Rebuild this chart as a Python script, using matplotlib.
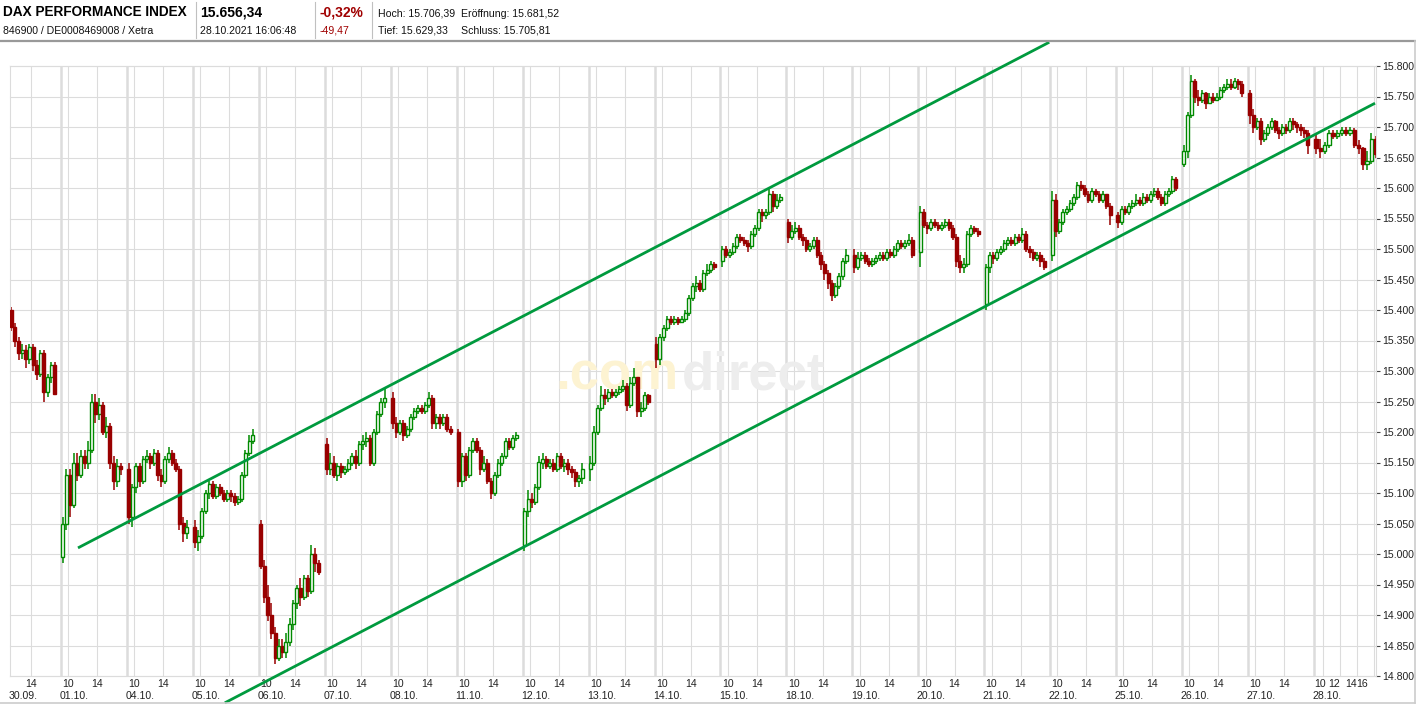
import matplotlib
matplotlib.use("Agg")
import matplotlib.pyplot as plt
from matplotlib.lines import Line2D
import numpy as np

# ---------------- data ----------------
days = ["30.09.", "01.10.", "04.10.", "05.10.", "06.10.", "07.10.", "08.10.",
        "11.10.", "12.10.", "13.10.", "14.10.", "15.10.", "18.10.", "19.10.",
        "20.10.", "21.10.", "22.10.", "25.10.", "26.10.", "27.10.", "28.10."]

first_slot = [4] + [0] * 20          # first half-hour slot (0 = 9:00) per day

day_open = [15400, 14995, 15140, 15045, 15050, 15180, 15255, 15200, 15015, 15140,
            15345, 15480, 15545, 15490, 15495, 15410, 15490, 15555, 15640, 15755, 15680]

closes = [
    [15372, 15350, 15330, 15335, 15320, 15340, 15310, 15295, 15330, 15265, 15290, 15310, 15262],
    [15050, 15130, 15080, 15150, 15130, 15160, 15150, 15170, 15250, 15230, 15245, 15200, 15210, 15150, 15120, 15145, 15140],
    [15060, 15110, 15145, 15120, 15155, 15160, 15150, 15165, 15130, 15120, 15155, 15165, 15150, 15140, 15050, 15035, 15045],
    [15020, 15030, 15070, 15100, 15115, 15095, 15110, 15100, 15090, 15100, 15095, 15085, 15090, 15130, 15165, 15185, 15195],
    [14980, 14930, 14900, 14870, 14830, 14850, 14840, 14855, 14885, 14920, 14945, 14930, 14960, 14940, 15000, 14985, 14970],
    [15140, 15150, 15130, 15145, 15135, 15140, 15150, 15160, 15150, 15180, 15185, 15190, 15150, 15200, 15230, 15250, 15255],
    [15215, 15200, 15215, 15195, 15205, 15225, 15235, 15240, 15235, 15245, 15255, 15215, 15225, 15215, 15225, 15205, 15200],
    [15120, 15160, 15130, 15170, 15185, 15170, 15140, 15150, 15120, 15100, 15130, 15150, 15160, 15185, 15175, 15190, 15195],
    [15070, 15090, 15085, 15110, 15150, 15155, 15145, 15150, 15140, 15160, 15145, 15150, 15140, 15135, 15120, 15125, 15140],
    [15150, 15200, 15240, 15260, 15255, 15265, 15260, 15265, 15270, 15275, 15245, 15280, 15290, 15235, 15240, 15260, 15250],
    [15320, 15355, 15370, 15385, 15380, 15385, 15380, 15385, 15395, 15420, 15440, 15445, 15435, 15460, 15465, 15475, 15470],
    [15500, 15490, 15495, 15505, 15520, 15515, 15510, 15505, 15525, 15535, 15560, 15555, 15560, 15590, 15570, 15580, 15585],
    [15520, 15530, 15535, 15520, 15515, 15500, 15505, 15515, 15490, 15475, 15460, 15445, 15425, 15440, 15455, 15480, 15490],
    [15470, 15485, 15490, 15480, 15475, 15480, 15485, 15490, 15485, 15495, 15490, 15500, 15510, 15505, 15510, 15515, 15490],
    [15560, 15540, 15535, 15545, 15540, 15535, 15540, 15545, 15535, 15520, 15480, 15470, 15475, 15525, 15535, 15530, 15525],
    [15470, 15490, 15485, 15495, 15500, 15510, 15515, 15510, 15520, 15515, 15525, 15500, 15495, 15485, 15490, 15480, 15470],
    [15580, 15530, 15545, 15560, 15565, 15575, 15585, 15605, 15600, 15590, 15580, 15595, 15590, 15580, 15590, 15570, 15555],
    [15545, 15565, 15560, 15570, 15575, 15580, 15575, 15585, 15580, 15590, 15595, 15585, 15575, 15590, 15595, 15615, 15600],
    [15660, 15720, 15775, 15750, 15745, 15755, 15740, 15750, 15745, 15750, 15760, 15765, 15770, 15765, 15775, 15770, 15755],
    [15720, 15700, 15710, 15680, 15690, 15700, 15710, 15695, 15690, 15700, 15695, 15710, 15705, 15700, 15695, 15690, 15670],
    [15665, 15660, 15670, 15690, 15685, 15690, 15695, 15690, 15695, 15670, 15665, 15640, 15645, 15680, 15656],
]

highs = [
    [15405, 15378, 15355, 15345, 15342, 15345, 15345, 15318, 15335, 15335, 15295, 15315, 15315],
    [15060, 15140, 15140, 15165, 15165, 15170, 15170, 15185, 15262, 15262, 15255, 15250, 15225, 15215, 15160, 15155, 15150],
    [15150, 15115, 15150, 15150, 15160, 15170, 15165, 15172, 15170, 15140, 15160, 15175, 15170, 15155, 15145, 15060, 15055],
    [15055, 15040, 15075, 15105, 15120, 15120, 15115, 15115, 15105, 15105, 15105, 15100, 15095, 15135, 15170, 15195, 15205],
    [15055, 14990, 14950, 14920, 14880, 14860, 14860, 14870, 14895, 14925, 14950, 14960, 14965, 14965, 15015, 15010, 14990],
    [15190, 15165, 15160, 15150, 15150, 15145, 15155, 15165, 15170, 15185, 15195, 15200, 15195, 15205, 15235, 15255, 15270],
    [15265, 15225, 15220, 15220, 15210, 15230, 15240, 15245, 15245, 15250, 15265, 15260, 15230, 15230, 15230, 15230, 15210],
    [15205, 15165, 15165, 15175, 15190, 15190, 15175, 15160, 15155, 15125, 15135, 15155, 15165, 15190, 15190, 15195, 15200],
    [15075, 15105, 15100, 15115, 15160, 15165, 15160, 15155, 15155, 15165, 15165, 15155, 15155, 15145, 15140, 15130, 15150],
    [15160, 15210, 15245, 15275, 15270, 15270, 15270, 15270, 15275, 15285, 15280, 15290, 15305, 15290, 15250, 15265, 15262],
    [15355, 15360, 15375, 15390, 15390, 15390, 15388, 15390, 15400, 15425, 15445, 15455, 15450, 15465, 15475, 15480, 15478],
    [15505, 15505, 15500, 15510, 15525, 15525, 15520, 15515, 15530, 15540, 15565, 15565, 15565, 15600, 15595, 15590, 15590],
    [15550, 15540, 15545, 15540, 15525, 15520, 15510, 15520, 15520, 15495, 15480, 15465, 15450, 15445, 15460, 15485, 15500],
    [15500, 15495, 15495, 15495, 15485, 15485, 15490, 15495, 15495, 15500, 15500, 15505, 15515, 15515, 15515, 15525, 15520],
    [15570, 15565, 15545, 15550, 15550, 15545, 15545, 15550, 15550, 15540, 15525, 15490, 15485, 15530, 15540, 15538, 15535],
    [15475, 15495, 15495, 15500, 15505, 15515, 15520, 15520, 15525, 15525, 15535, 15530, 15505, 15500, 15495, 15495, 15485],
    [15595, 15590, 15550, 15565, 15570, 15580, 15590, 15610, 15612, 15605, 15595, 15600, 15598, 15595, 15595, 15590, 15575],
    [15560, 15570, 15570, 15575, 15580, 15590, 15585, 15592, 15590, 15595, 15600, 15600, 15590, 15595, 15600, 15620, 15618],
    [15670, 15725, 15785, 15778, 15760, 15760, 15758, 15755, 15755, 15755, 15765, 15770, 15778, 15778, 15780, 15778, 15775],
    [15760, 15730, 15715, 15715, 15695, 15705, 15715, 15712, 15700, 15705, 15705, 15715, 15715, 15708, 15705, 15700, 15695],
    [15690, 15680, 15675, 15695, 15695, 15695, 15700, 15700, 15700, 15698, 15678, 15668, 15660, 15690, 15685],
]

lows = [
    [15365, 15340, 15318, 15320, 15305, 15312, 15300, 15285, 15290, 15250, 15258, 15280, 15260],
    [14985, 15040, 15060, 15075, 15120, 15125, 15140, 15140, 15165, 15215, 15220, 15195, 15190, 15140, 15105, 15110, 15130],
    [15050, 15045, 15100, 15110, 15115, 15150, 15140, 15145, 15120, 15110, 15115, 15150, 15145, 15135, 15040, 15020, 15025],
    [15010, 15005, 15025, 15065, 15090, 15090, 15090, 15095, 15085, 15085, 15085, 15078, 15080, 15085, 15125, 15160, 15180],
    [14975, 14920, 14890, 14860, 14820, 14825, 14830, 14830, 14850, 14875, 14910, 14915, 14925, 14930, 14935, 14970, 14965],
    [15130, 15130, 15125, 15120, 15125, 15130, 15135, 15145, 15140, 15145, 15170, 15175, 15145, 15145, 15195, 15225, 15240],
    [15205, 15190, 15195, 15185, 15190, 15200, 15220, 15230, 15230, 15230, 15240, 15205, 15205, 15205, 15210, 15200, 15195],
    [15110, 15110, 15120, 15125, 15165, 15165, 15130, 15135, 15115, 15090, 15095, 15125, 15145, 15155, 15170, 15170, 15185],
    [15005, 15060, 15075, 15080, 15105, 15140, 15140, 15140, 15135, 15135, 15140, 15135, 15130, 15125, 15110, 15110, 15115],
    [15120, 15145, 15195, 15235, 15245, 15250, 15255, 15255, 15260, 15265, 15235, 15240, 15275, 15225, 15225, 15235, 15245],
    [15305, 15310, 15350, 15365, 15375, 15375, 15375, 15378, 15380, 15390, 15415, 15430, 15430, 15430, 15455, 15460, 15465],
    [15470, 15485, 15485, 15490, 15500, 15510, 15505, 15495, 15500, 15520, 15530, 15545, 15550, 15555, 15560, 15565, 15575],
    [15510, 15515, 15525, 15515, 15505, 15495, 15495, 15500, 15485, 15465, 15450, 15435, 15415, 15420, 15435, 15450, 15475],
    [15460, 15465, 15480, 15475, 15470, 15470, 15475, 15480, 15480, 15480, 15485, 15485, 15495, 15500, 15500, 15505, 15485],
    [15470, 15535, 15525, 15530, 15535, 15530, 15530, 15535, 15530, 15515, 15470, 15460, 15460, 15470, 15520, 15525, 15520],
    [15400, 15460, 15475, 15480, 15490, 15495, 15505, 15505, 15505, 15510, 15510, 15495, 15485, 15480, 15480, 15470, 15465],
    [15480, 15520, 15525, 15540, 15555, 15560, 15570, 15580, 15595, 15585, 15575, 15575, 15585, 15575, 15575, 15565, 15540],
    [15535, 15540, 15555, 15555, 15565, 15570, 15570, 15570, 15575, 15575, 15585, 15580, 15570, 15570, 15585, 15590, 15595],
    [15635, 15650, 15715, 15740, 15735, 15740, 15730, 15738, 15740, 15742, 15745, 15755, 15760, 15760, 15762, 15760, 15750],
    [15705, 15690, 15695, 15670, 15675, 15685, 15695, 15690, 15680, 15685, 15688, 15690, 15695, 15690, 15685, 15682, 15655],
    [15655, 15650, 15655, 15665, 15680, 15680, 15685, 15685, 15685, 15665, 15655, 15630, 15630, 15640, 15650],
]

# trend channel: (day index, hour, price)
trend_upper = [(1, 11.35, 15010), (15, 17.97, 15839)]
trend_lower = [(3, 13.41, 14756), (20, 16.18, 15739)]

y_ticks = list(range(14800, 15801, 50))
hour_ticks = [10, 14]
last_day_hour_ticks = [10, 12, 14, 16]

header_title = "DAX PERFORMANCE INDEX"
header_sub = "846900 / DE0008469008 / Xetra"
header_price = "15.656,34"
header_time = "28.10.2021 16:06:48"
header_pct = "-0,32%"
header_abs = "-49,47"
header_hoch = "Hoch: 15.706,39"
header_tief = "Tief: 15.629,33"
header_eroeff = "Eröffnung: 15.681,52"
header_schluss = "Schluss: 15.705,81"

# ---------------- layout ----------------
W, H = 1416, 706
FONT = ["Liberation Sans", "DejaVu Sans"]
RED = "#990000"
GREEN = "#008a00"
GRID = "#dcdcdc"
TREND = "#009a3e"

fig = plt.figure(figsize=(W / 100, H / 100), dpi=100)
fig.patch.set_facecolor("white")


def fx(px):
    return px / W


def fy(py):
    return 1 - py / H


AX_L, AX_R, AX_T, AX_B = 10, 1376, 66, 676
ax = fig.add_axes([fx(AX_L), fy(AX_B), (AX_R - AX_L) / W, (AX_B - AX_T) / H])
ax.set_facecolor("white")

DAY_PX = 65.95
ORIGIN_PX = -5.0
HOUR_PX = 7.25
LAST_HOUR_PX = 8.5
LAST = len(days) - 1


def pos(k, h):
    scale = LAST_HOUR_PX if k == LAST else HOUR_PX
    return k + (h - 9.0) * scale / DAY_PX


x0 = (AX_L - ORIGIN_PX) / DAY_PX
x1 = (AX_R - ORIGIN_PX) / DAY_PX
ax.set_xlim(x0, x1)
ax.set_ylim(14800, 15800)

# grid
for v in y_ticks:
    ax.axhline(v, color=GRID, lw=0.8, zorder=0, clip_on=False)
for k in range(len(days)):
    if k >= 1:
        ax.axvline(k, color=GRID, lw=1.8, zorder=0)
    hts = last_day_hour_ticks if k == LAST else hour_ticks
    for h in hts:
        xv = pos(k, h)
        if x0 < xv < x1:
            ax.axvline(xv, color=GRID, lw=0.8, zorder=0)

# candles
BODY_PX = 3.0
for k in range(len(days)):
    prev = day_open[k]
    scale = LAST_HOUR_PX if k == LAST else HOUR_PX
    wd = BODY_PX * scale / HOUR_PX / DAY_PX
    for j, c in enumerate(closes[k]):
        slot = first_slot[k] + j
        xc = pos(k, 9.0 + 0.5 * slot + 0.25)
        lo, hi = min(prev, c), max(prev, c)
        col = GREEN if c >= prev else RED
        ax.vlines(xc, lows[k][j], highs[k][j], color=col, lw=1.1, zorder=2)
        if c >= prev:
            ax.bar(xc, hi - lo, wd, lo, facecolor="white", edgecolor=GREEN,
                   linewidth=1.0, zorder=3)
        else:
            ax.bar(xc, hi - lo, wd, lo, facecolor=RED, edgecolor=RED,
                   linewidth=1.0, zorder=3)
        prev = c

# trend channel
for tl in (trend_upper, trend_lower):
    xs = [pos(k, h) for k, h, _ in tl]
    ys = [p for _, _, p in tl]
    ax.plot(xs, ys, color=TREND, lw=2.0, clip_on=False, zorder=4,
            solid_capstyle="butt")

# axes styling
for s in ax.spines.values():
    s.set_color(GRID)
    s.set_linewidth(0.8)
ax.set_xticks([])
ax.yaxis.tick_right()
ax.set_yticks(y_ticks)
ax.set_yticklabels([f"{v:,}".replace(",", ".") for v in y_ticks],
                   fontsize=7.6, family=FONT, color="#222222")
ax.tick_params(axis="y", length=3, width=0.8, color="#444444", pad=1.5)

# x labels
xt = ax.get_xaxis_transform()
last_dx = [-2, -5, -5, -11]
for k, d in enumerate(days):
    hts = last_day_hour_ticks if k == LAST else hour_ticks
    for i, h in enumerate(hts):
        xv = pos(k, h)
        if x0 < xv < x1:
            dx = last_dx[i] if k == LAST else 0
            ax.annotate(str(h), xy=(xv, 0), xycoords=xt, xytext=(dx, -8),
                        textcoords="offset pixels", ha="center", va="center",
                        fontsize=7.6, family=FONT, color="#222222",
                        annotation_clip=False)
    xd = max(k, x0)
    ax.annotate(d, xy=(xd, 0), xycoords=xt, xytext=(-1.5, -20),
                textcoords="offset pixels", ha="left", va="center",
                fontsize=7.6, family=FONT, color="#222222", annotation_clip=False)

# watermark
ax.text(0.399, 0.469, ".com", transform=ax.transAxes, fontsize=38,
        fontweight="bold", color="#fdf3d2", family=FONT, zorder=1,
        ha="left", va="baseline")
ax.text(0.492, 0.469, "direct", transform=ax.transAxes, fontsize=38,
        fontweight="bold", color="#ededed", family=FONT, zorder=1,
        ha="left", va="baseline")

# header
fig.text(fx(3), fy(16.5), header_title, fontsize=9.8, fontweight="bold",
         family=FONT, va="baseline", color="#000000")
fig.text(fx(200), fy(16.5), header_price, fontsize=10, fontweight="bold",
         family=FONT, va="baseline", color="#000000")
fig.text(fx(320), fy(16.5), header_pct, fontsize=10, fontweight="bold",
         family=FONT, va="baseline", color="#a00000")
fig.text(fx(378), fy(17), header_hoch, fontsize=7.6, family=FONT,
         va="baseline", color="#111111")
fig.text(fx(461), fy(17), header_eroeff, fontsize=7.6, family=FONT,
         va="baseline", color="#111111")
fig.text(fx(3), fy(33.5), header_sub, fontsize=7.6, family=FONT,
         va="baseline", color="#111111")
fig.text(fx(200), fy(33.5), header_time, fontsize=7.6, family=FONT,
         va="baseline", color="#111111")
fig.text(fx(320), fy(33.5), header_abs, fontsize=7.6, family=FONT,
         va="baseline", color="#a00000")
fig.text(fx(378), fy(33.5), header_tief, fontsize=7.6, family=FONT,
         va="baseline", color="#111111")
fig.text(fx(461), fy(33.5), header_schluss, fontsize=7.6, family=FONT,
         va="baseline", color="#111111")

for xs in (196, 315, 372):
    fig.add_artist(Line2D([fx(xs), fx(xs)], [fy(2), fy(38)], color="#c0c0c0",
                          lw=0.8, transform=fig.transFigure))
fig.add_artist(Line2D([0, 1], [fy(40.5), fy(40.5)], color="#999999", lw=1.6,
                      transform=fig.transFigure))
fig.add_artist(Line2D([0, fx(1414.5)], [fy(703), fy(703)], color="#cccccc",
                      lw=1.2, transform=fig.transFigure))
fig.add_artist(Line2D([fx(1414.5), fx(1414.5)], [fy(41), fy(703)],
                      color="#cccccc", lw=1.2, transform=fig.transFigure))

fig.savefig("out.png", dpi=100, facecolor="white")
